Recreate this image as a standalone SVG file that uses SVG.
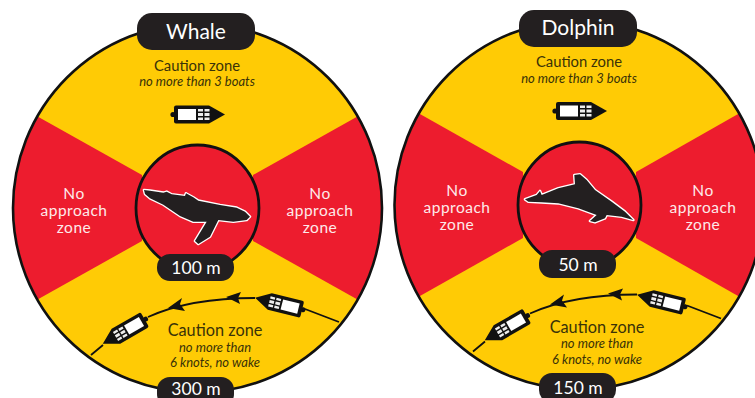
<svg xmlns="http://www.w3.org/2000/svg" xmlns:xlink="http://www.w3.org/1999/xlink" width="755" height="398" viewBox="0 0 755 398">
<style>
text{font-family:Lato,"Open Sans",sans-serif;text-anchor:middle}
.y{fill:#ffcb05}
.ring{fill:none;stroke:#111;stroke-width:2.6}
.r{fill:#ed1c2e}
.c{fill:#ed1c2e;stroke:#111;stroke-width:2.8}
.p{fill:#231f20}
.t{fill:#fff;font-size:21px}
.m{fill:#fff;font-size:17.5px}
.w{fill:#fdeaea;font-size:15.500px;letter-spacing:.5px}
.cz{fill:#3a3208;font-size:14.800px}
.cl{font-size:16.300px}
.n{fill:#3a3208;font-size:13px;font-style:italic}
.track{fill:none;stroke:#111;stroke-width:1.8}
.head{fill:#111}
.animal{fill:#231f20;stroke:#fff;stroke-width:8;stroke-linejoin:round;paint-order:stroke}
</style>
<defs>
<g id="boat">
<circle cx="-25" cy="0" r="2.6" fill="#111"/>
<path d="M-24,-7 Q-24,-9 -22,-9 L11,-9 L27,0 L11,9 L-22,9 Q-24,9 -24,7 Z" fill="#111"/>
<rect x="-20" y="-5.500" width="18" height="11" fill="#fff"/>
<path d="M0,-5.500h5v2.500h-5zM6.500,-5.500h5v2.500h-5zM0,-1.500h5v3h-5zM6.500,-1.500h5v3h-5zM0,3h5v2.500h-5zM6.500,3h5v2.500h-5z" fill="#eee"/>
</g>
</defs>
<rect width="755" height="398" fill="#fff"/>

<g id="whale-zone">
<circle class="y" cx="197.500" cy="208" r="184"/>
<path class="r" d="M38,116.800 L142,175 L142,241 L38,299.200 A184,184 0 0 1 38,116.800 Z"/>
<path class="r" d="M357,116.800 L253,175 L253,241 L357,299.200 A184,184 0 0 0 357,116.800 Z"/>
<circle class="ring" cx="197.500" cy="208" r="184.500"/>
<ellipse class="c" cx="197.500" cy="208" rx="61.500" ry="63"/>
<text class="w" x="74" y="199">No</text>
<text class="w" x="74" y="216">approach</text>
<text class="w" x="74" y="233">zone</text>
<text class="w" x="320" y="199">No</text>
<text class="w" x="320" y="216">approach</text>
<text class="w" x="320" y="233">zone</text>
<text class="cz" x="197" y="70.500">Caution zone</text>
<text class="n" x="197" y="86">no more than 3 boats</text>
<text class="cz cl" x="215" y="336">Caution zone</text>
<text class="n" x="215" y="351.500">no more than</text>
<text class="n" x="215" y="367">6 knots, no wake</text>
</g>
<g id="whale-animal">
<path class="animal" transform="translate(130,170) scale(.3333)" d="M42,60 L60,62 L100,68 L110,65 L125,73 L165,78 L168,70 L190,82 L205,92 L270,105 L320,113 L345,125 L360,140 L350,150 L310,155 L265,150 L240,200 L205,222 L195,213 L215,180 L230,155 L190,155 L150,138 L100,104 L60,85 L45,72 Z"/>
</g>
<g id="whale-title"><rect class="p" x="137" y="13" width="118" height="37" rx="15"/><text class="t" x="196" y="39">Whale</text></g>
<g id="whale-100m"><rect class="p" x="157" y="254" width="77" height="27" rx="13"/><text class="m" x="196" y="274">100 m</text></g>
<g id="whale-300m"><rect class="p" x="157" y="377" width="77" height="30" rx="13"/><text class="m" x="196" y="394.500">300 m</text></g>

<g id="dolphin-zone">
<circle class="y" cx="579" cy="205" r="184"/>
<path class="r" d="M419.500,113.800 L523,172 L523,238 L419.500,296.200 A184,184 0 0 1 419.500,113.800 Z"/>
<path class="r" d="M738.500,113.800 L636,172 L636,238 L738.500,296.200 A184,184 0 0 0 738.500,113.800 Z"/>
<circle class="ring" cx="579" cy="205" r="184.500"/>
<ellipse class="c" cx="579.500" cy="205" rx="61.500" ry="63"/>
<text class="w" x="457" y="196">No</text>
<text class="w" x="457" y="213">approach</text>
<text class="w" x="457" y="230">zone</text>
<text class="w" x="703" y="196">No</text>
<text class="w" x="703" y="213">approach</text>
<text class="w" x="703" y="230">zone</text>
<text class="cz" x="579" y="67">Caution zone</text>
<text class="n" x="579" y="82.500">no more than 3 boats</text>
<text class="cz cl" x="597" y="333">Caution zone</text>
<text class="n" x="597" y="348">no more than</text>
<text class="n" x="597" y="363.500">6 knots, no wake</text>
</g>
<g id="dolphin-animal">
<path class="animal" transform="translate(515,165) scale(.3333)" d="M30,103 L65,90 L75,78 L80,90 L130,70 L180,58 L178,30 L195,28 L215,45 L240,75 L290,110 L330,140 L355,165 L320,155 L275,150 L270,160 L240,172 L225,168 L245,150 L190,130 L130,115 L80,112 L40,110 Z"/>
</g>
<g id="dolphin-title"><rect class="p" x="519" y="10" width="118" height="37" rx="15"/><text class="t" x="578" y="35">Dolphin</text></g>
<g id="dolphin-50m"><rect class="p" x="539" y="250" width="77" height="28" rx="13"/><text class="m" x="578" y="271">50 m</text></g>
<g id="dolphin-150m"><rect class="p" x="539" y="373" width="77" height="30" rx="13"/><text class="m" x="578" y="394">150 m</text></g>

<g id="whale-boats">
<use xlink:href="#boat" href="#boat" transform="translate(198,114.500)"/>
<use xlink:href="#boat" href="#boat" transform="translate(280,304) rotate(194) scale(.95)"/>
<use xlink:href="#boat" href="#boat" transform="translate(125,331) rotate(150) scale(.95)"/>
</g>
<g id="dolphin-boats">
<use xlink:href="#boat" href="#boat" transform="translate(580,111)"/>
<use xlink:href="#boat" href="#boat" transform="translate(662,301) rotate(194) scale(.95)"/>
<use xlink:href="#boat" href="#boat" transform="translate(507,327.500) rotate(150) scale(.95)"/>
</g>

<g id="connectors">
<path class="track" d="M91,355 L103,345 M148,317 Q190,298 255,298 M305,309 L339,322"/>
<path class="head" d="M168,308 L182,298 L180,304 L185,311 Z"/>
<path class="head" d="M226,297 L241,292 L238,298 L240,304 Z"/>
<path class="track" d="M473,351.500 L485,341.500 M530,313.500 Q572,294.500 637,294.500 M687,305.500 L721,318.500"/>
<path class="head" d="M550,304.500 L564,294.500 L562,300.500 L567,307.500 Z"/>
<path class="head" d="M608,293.500 L623,288.500 L620,294.500 L622,300.500 Z"/>
</g>
</svg>
